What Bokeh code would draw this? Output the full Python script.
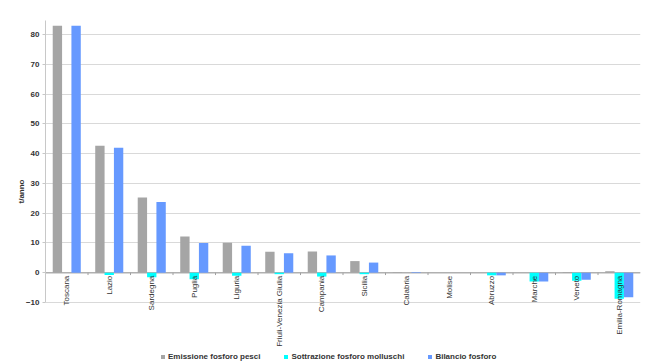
import math
from bokeh.plotting import figure
from bokeh.models import (ColumnDataSource, FactorRange, FixedTicker, Span,
                          Legend, LegendItem, LabelSet)
from bokeh.core.properties import value
from bokeh.transform import dodge
from bokeh.embed import file_html
from bokeh.resources import INLINE

regions = ["Toscana", "Lazio", "Sardegna", "Puglia", "Liguria",
           "Friuli-Venezia Giulia", "Campania", "Sicilia", "Calabria",
           "Molise", "Abruzzo", "Marche", "Veneto", "Emilia-Romagna"]
emissione = [83.0, 42.7, 25.3, 12.2, 10.1, 7.0, 7.1, 3.9, 0.2, 0.0, 0.0, 0.0, 0.2, 0.5]
sottrazione = [0.0, -0.8, -1.5, -2.2, -1.0, -0.5, -1.3, -0.5, 0.0, 0.0, -0.9, -3.0, -2.7, -8.8]
bilancio = [83.0, 42.0, 23.8, 10.0, 9.1, 6.5, 5.8, 3.4, 0.2, 0.0, -0.9, -3.0, -2.4, -8.3]
y_ticks = [-10, 0, 10, 20, 30, 40, 50, 60, 70, 80]
series_names = ["Emissione fosforo pesci", "Sottrazione fosforo molluschi", "Bilancio fosforo"]

src = ColumnDataSource(dict(cat=regions, emi=emissione, sot=sottrazione,
                            bil=bilancio, zero=[0] * len(regions)))

p = figure(width=645, height=362, x_range=FactorRange(*regions),
           y_range=(-30.2, 84.8), output_backend="svg", toolbar_location=None,
           min_border_left=45, min_border_right=5, min_border_top=20,
           min_border_bottom=0, outline_line_color=None)

col_grey = "#a5a5a5"
col_cyan = "#00ffff"
col_blue = "#6699ff"
w = 0.22
r1 = p.vbar(x=dodge("cat", -w, range=p.x_range), top="emi", bottom=0, width=w,
            source=src, fill_color=col_grey, line_color=None)
r2 = p.vbar(x=dodge("cat", 0.0, range=p.x_range), top="sot", bottom=0, width=w,
            source=src, fill_color=col_cyan, line_color=None)
r3 = p.vbar(x=dodge("cat", w, range=p.x_range), top="bil", bottom=0, width=w,
            source=src, fill_color=col_blue, line_color=None)

# zero line
p.add_layout(Span(location=0, dimension="width", line_color="#b0b0b0",
                  line_width=1.5, level="underlay"))
# category boundary ticks
p.segment(x0=dodge("cat", -0.5, range=p.x_range), y0=0,
          x1=dodge("cat", -0.5, range=p.x_range), y1=-0.8,
          source=src, line_color="#a0a0a0", line_width=1)

# category labels
labels = LabelSet(x="cat", y="zero", text="cat", source=src, angle=math.pi / 2,
                  text_align="right", text_baseline="middle", y_offset=-3,
                  text_font=value("Liberation Sans"), text_font_size=value("8px"),
                  text_color=value("#333333"))
p.add_layout(labels)

p.xaxis.visible = False
p.xgrid.grid_line_color = None

ya = p.yaxis[0]
ya.ticker = FixedTicker(ticks=y_ticks)
ya.bounds = (-10, 84.8)
ya.axis_line_color = "#c8c8c8"
ya.major_tick_line_color = "#c8c8c8"
ya.major_tick_out = 3
ya.major_tick_in = 0
ya.minor_tick_line_color = None
ya.major_label_standoff = 3
ya.major_label_text_font = "Liberation Sans"
ya.major_label_text_font_size = "8px"
ya.major_label_text_font_style = "bold"
ya.major_label_text_color = "#333333"
ya.axis_label = "t/anno"
ya.axis_label_text_font = "Liberation Sans"
ya.axis_label_text_font_size = "8px"
ya.axis_label_text_font_style = "bold"
ya.axis_label_text_color = "#333333"
ya.axis_label_standoff = -3
p.ygrid.grid_line_color = "#d9d9d9"
p.ygrid.grid_line_width = 1

legend = Legend(items=[LegendItem(label=series_names[0], renderers=[r1]),
                       LegendItem(label=series_names[1], renderers=[r2]),
                       LegendItem(label=series_names[2], renderers=[r3])],
                orientation="horizontal", location=(115, 1),
                label_text_font="Liberation Sans", label_text_font_size="8px",
                label_text_font_style="bold", label_text_color="#333333",
                glyph_width=5, glyph_height=5, label_height=10,
                label_standoff=3, spacing=23, padding=2, margin=0,
                background_fill_alpha=0, border_line_color=None)
p.add_layout(legend)

open("out.html", "w").write(file_html(p, INLINE))
